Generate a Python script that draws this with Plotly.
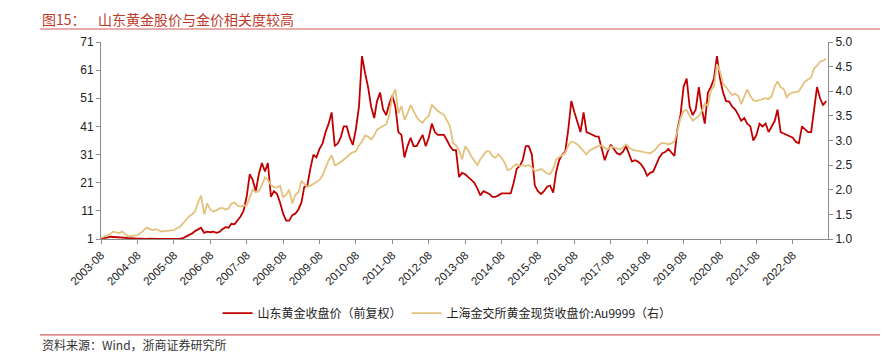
import pandas as pd
import plotly.graph_objects as go

start_month = "2003-08-01"

sd_gold_close = [
    1.2, 1.3, 1.5, 1.8, 1.7, 1.6, 1.5, 1.4, 1.3, 1.2, 1.2, 1.2,
    1.1, 1.1, 1.0, 1.0, 1.1, 1.0, 1.0, 1.0, 1.0, 1.0, 1.0, 1.0,
    1.0, 1.0, 1.1, 1.3, 1.8, 2.4, 3.0, 3.8, 4.5, 5.0, 3.2, 3.6,
    3.4, 3.6, 3.2, 3.5, 4.5, 5.2, 5.0, 6.4, 6.2, 7.5, 9.0, 11.0,
    16, 24, 22, 18, 24, 28, 25, 28, 16, 18, 17, 14,
    10, 7.5, 7.5, 9.5, 10, 11.5, 14, 19.5, 20, 26, 31, 30,
    33, 35, 39, 42, 46, 34, 35, 37, 41, 41, 37, 34.4,
    40, 48, 66, 60, 55, 48, 44, 50, 53, 47, 45, 49,
    52, 48, 39, 38, 30, 34, 37, 34, 34, 36, 38, 34,
    37, 42, 39, 38, 38, 38, 36, 34, 32.6, 32.6, 23, 24.5,
    24, 23, 22, 21, 19, 16.5, 18, 17.5, 17, 16, 16, 16.5,
    17.2, 17.2, 17.2, 17.2, 21, 26, 27, 29, 34, 34, 31, 20,
    18, 17, 18, 19.6, 20, 17.5, 25, 29, 31, 32, 40, 50,
    46, 42, 39, 46, 39, 38.5, 38, 37.5, 37.4, 33, 29, 32,
    34.5, 33, 31.5, 31, 32, 34, 31, 28.5, 29, 28.5, 27.5, 26,
    23.5, 24.5, 25, 27.5, 30, 31.5, 32, 33, 31.5, 30.5, 40, 45,
    55, 58, 48, 45, 47, 55, 47, 42, 53, 55, 58, 66,
    58, 53, 50, 49.8, 48, 47, 45, 43, 44, 42, 41, 36,
    38, 42, 41, 42, 39, 41, 43, 47, 39, 38.5, 38, 37.5,
    37, 35.5, 35, 41, 40, 39, 39, 47, 55, 51, 48.5, 50,
]

au9999_close = [
    1.02, 1.05, 1.08, 1.10, 1.15, 1.13, 1.12, 1.15, 1.10, 1.05, 1.06, 1.07,
    1.08, 1.12, 1.18, 1.23, 1.20, 1.18, 1.20, 1.17, 1.15, 1.16, 1.17, 1.18,
    1.18, 1.22, 1.25, 1.32, 1.38, 1.46, 1.50, 1.56, 1.75, 1.88, 1.50, 1.72,
    1.60, 1.56, 1.58, 1.62, 1.63, 1.60, 1.62, 1.72, 1.74, 1.68, 1.66, 1.68,
    1.68, 1.85, 2.00, 1.95, 1.97, 2.10, 2.25, 2.20, 2.10, 2.05, 2.05, 2.08,
    1.85, 1.90, 2.00, 1.72, 1.90, 1.95, 2.18, 2.12, 2.06, 2.08, 2.12, 2.15,
    2.20, 2.30, 2.44, 2.60, 2.70, 2.50, 2.52, 2.56, 2.62, 2.66, 2.72, 2.76,
    2.78, 2.90, 2.98, 3.10, 3.08, 3.02, 3.10, 3.22, 3.26, 3.30, 3.33, 3.50,
    3.90, 4.04, 3.55, 3.70, 3.42, 3.55, 3.72, 3.60, 3.48, 3.40, 3.36, 3.45,
    3.50, 3.72, 3.66, 3.60, 3.56, 3.52, 3.40, 3.30, 2.95, 2.90, 2.80, 2.62,
    2.88, 2.80, 2.68, 2.58, 2.50, 2.62, 2.70, 2.78, 2.78, 2.68, 2.65, 2.72,
    2.65, 2.55, 2.40, 2.42, 2.48, 2.52, 2.48, 2.50, 2.48, 2.50, 2.45, 2.38,
    2.40, 2.42, 2.38, 2.33, 2.32, 2.42, 2.62, 2.66, 2.70, 2.75, 2.90, 2.98,
    2.96, 2.92, 2.85, 2.78, 2.72, 2.80, 2.84, 2.86, 2.89, 2.90, 2.85, 2.82,
    2.88, 2.86, 2.84, 2.82, 2.86, 2.92, 2.86, 2.82, 2.80, 2.79, 2.78, 2.76,
    2.75, 2.74, 2.78, 2.84, 2.92, 2.95, 2.94, 2.92, 2.94, 2.98, 3.20, 3.45,
    3.60, 3.62, 3.50, 3.40, 3.45, 3.50, 3.60, 3.75, 3.70, 4.02, 4.10, 4.55,
    4.40, 4.15, 4.08, 4.00, 3.92, 3.95, 3.90, 3.74, 3.90, 4.04, 3.90, 3.82,
    3.80, 3.82, 3.85, 3.86, 3.84, 3.90, 4.10, 4.20, 4.08, 4.05, 3.88, 3.95,
    3.97, 3.98, 4.00, 4.10, 4.20, 4.24, 4.28, 4.46, 4.52, 4.60, 4.62, 4.66,
]

tick_labels = [f"{y}-08" for y in range(2003, 2023)]
tick_dates = [f"{y}-08-01" for y in range(2003, 2023)]

dates = pd.date_range(start_month, periods=len(sd_gold_close), freq="MS")

RED = "#C00000"
GOLD = "#E2C27D"
FONT = "Liberation Sans, Arial, Noto Sans CJK SC, sans-serif"
CJK = "Noto Sans CJK SC, sans-serif"

fig = go.Figure()
fig.add_trace(go.Scatter(
    x=dates, y=au9999_close, name="上海金交所黄金现货收盘价:Au9999（右）",
    mode="lines", line=dict(color=GOLD, width=1.8), yaxis="y2",
))
fig.add_trace(go.Scatter(
    x=dates, y=sd_gold_close, name="山东黄金收盘价（前复权）",
    mode="lines", line=dict(color=RED, width=1.8), yaxis="y",
))

axis_common = dict(
    showgrid=False, zeroline=False, showline=True, linecolor="#8c8c8c",
    linewidth=1, ticks="outside", ticklen=4, tickcolor="#8c8c8c",
    automargin=False,
)
tick_font = dict(family=FONT, size=12, color="#222")

# page has an 8px body margin, so the figure is 8px smaller on each axis
fig.update_layout(
    width=880, height=348,
    margin=dict(l=93, r=60, t=34, b=117),
    paper_bgcolor="white", plot_bgcolor="white",
    showlegend=True,
    legend=dict(
        orientation="h", x=0.476, y=-0.376, xanchor="center", yanchor="middle",
        font=dict(family=CJK, size=12, color="#222"),
        traceorder="reversed", itemwidth=30,
    ),
    xaxis=dict(
        type="date", range=["2003-08-01", "2023-07-20"],
        tickvals=tick_dates, ticktext=tick_labels, tickangle=-45,
        tickfont=dict(family=FONT, size=11.5, color="#222"),
        **axis_common,
    ),
    yaxis=dict(range=[1, 71], tickvals=[1, 11, 21, 31, 41, 51, 61, 71],
               tickfont=tick_font, **axis_common),
    yaxis2=dict(
        range=[1.0, 5.0], dtick=0.5, tick0=1.0, tickformat=".1f",
        overlaying="y", side="right", tickfont=tick_font, **axis_common,
    ),
    annotations=[
        dict(text="图15：    山东黄金股价与金价相关度较高", xref="paper", yref="paper",
             x=-0.084, y=1.117, xanchor="left", yanchor="middle", showarrow=False,
             font=dict(family=CJK, size=14, color="#C0392B")),
        dict(text="资料来源：Wind，浙商证券研究所", xref="paper", yref="paper",
             x=-0.084, y=-0.538, xanchor="left", yanchor="middle", showarrow=False,
             font=dict(family=CJK, size=12, color="#333")),
    ],
    shapes=[
        dict(type="line", xref="paper", yref="paper", x0=-0.084, x1=1.083,
             y0=1.066, y1=1.066, line=dict(color="#D05A5A", width=1.2)),
        dict(type="line", xref="paper", yref="paper", x0=-0.084, x1=1.083,
             y0=-0.487, y1=-0.487, line=dict(color="#D05A5A", width=1.2)),
    ],
)

fig.write_html("out.html")
